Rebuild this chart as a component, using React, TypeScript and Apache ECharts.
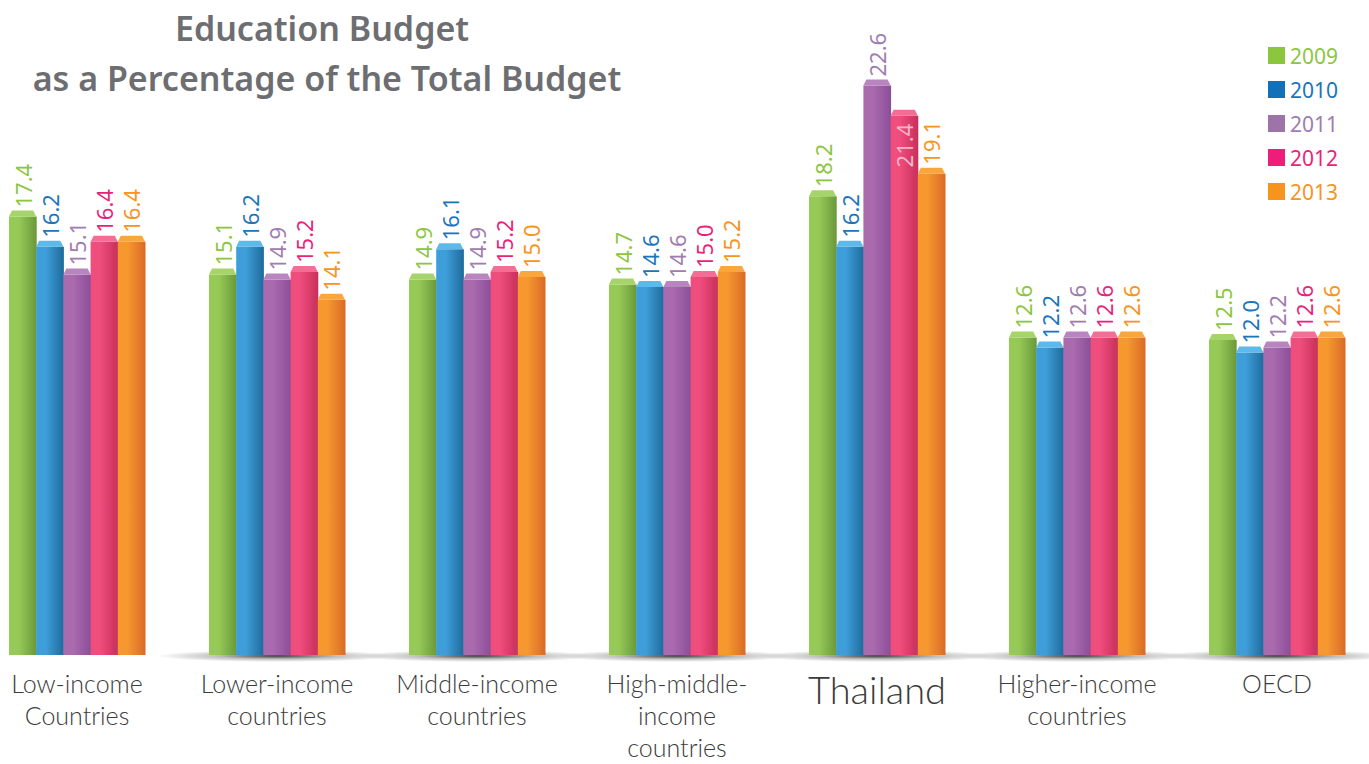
import React, { useEffect, useRef } from "react";
import * as echarts from "echarts";

const categories = [
  "Low-income\nCountries",
  "Lower-income\ncountries",
  "Middle-income\ncountries",
  "High-middle-\nincome\ncountries",
  "Thailand",
  "Higher-income\ncountries",
  "OECD",
];
const years = ["2009", "2010", "2011", "2012", "2013"];
const v2009 = [17.4, 15.1, 14.9, 14.7, 18.2, 12.6, 12.5];
const v2010 = [16.2, 16.2, 16.1, 14.6, 16.2, 12.2, 12.0];
const v2011 = [15.1, 14.9, 14.9, 14.6, 22.6, 12.6, 12.2];
const v2012 = [16.4, 15.2, 15.2, 15.0, 21.4, 12.6, 12.6];
const v2013 = [16.4, 14.1, 15.0, 15.2, 19.1, 12.6, 12.6];
const seriesValues = [v2009, v2010, v2011, v2012, v2013];
// [category index, series index] of labels drawn inside the bar
const insideLabels = [[4, 3]];

const legendColors = ["#8cc63f", "#1170b8", "#9e74a8", "#ee1d7a", "#f7941d"];
const textColors = ["#8cc63f", "#1b75bc", "#a07cb0", "#ec1f7a", "#f7941d"];
const lightColors = ["#96ca57", "#3d9ed9", "#aa6aae", "#ef4d7d", "#f7982f"];
const darkColors = ["#6a983a", "#1f6a9b", "#8a4e98", "#c72f5a", "#d96a26"];
const capColors = ["#a6d46b", "#5cb9ea", "#b885c0", "#f26e94", "#f9a63d"];

const FONT = "'Noto Sans', 'DejaVu Sans', sans-serif";
const LIGHT_FONT = "Lato, 'Noto Sans', sans-serif";

export default function App() {
  const ref = useRef<HTMLDivElement>(null);

  useEffect(() => {
    if (!ref.current) return;
    const chart = echarts.init(ref.current, undefined, { renderer: "svg" });

    const barSeries = years.map((year, sIdx) => ({
      type: "custom",
      name: year,
      z: 3,
      clip: false,
      itemStyle: { color: legendColors[sIdx] },
      encode: { x: 0, y: 1 },
      data: seriesValues[sIdx].map((v, i) => [i, v]),
      renderItem: (params: any, api: any) => {
        const cat = api.value(0);
        const val = api.value(1);
        const base = api.coord([cat, 0]);
        const top = api.coord([cat, val]);
        const band = api.size([1, 0])[0];
        const groupW = band * 0.68;
        const bw = groupW / 5;
        const x0 = base[0] - groupW / 2 + sIdx * bw;
        const capH = 6;
        const inset = 3;
        const inside = insideLabels.some((p) => p[0] === cat && p[1] === sIdx);
        const label = (val as number).toFixed(1);
        return {
          type: "group",
          children: [
            {
              type: "rect",
              shape: { x: x0, y: top[1], width: bw + 0.5, height: base[1] - top[1] },
              style: {
                fill: {
                  type: "linear",
                  x: 0,
                  y: 0,
                  x2: 1,
                  y2: 0,
                  colorStops: [
                    { offset: 0, color: lightColors[sIdx] },
                    { offset: 0.35, color: lightColors[sIdx] },
                    { offset: 1, color: darkColors[sIdx] },
                  ],
                },
              },
            },
            {
              type: "polygon",
              shape: {
                points: [
                  [x0, top[1]],
                  [x0 + bw, top[1]],
                  [x0 + bw - inset, top[1] - capH],
                  [x0 + inset, top[1] - capH],
                ],
              },
              style: { fill: capColors[sIdx] },
            },
            {
              type: "text",
              x: x0 + bw / 2,
              y: inside ? top[1] + 8 : top[1] - capH - 3,
              rotation: Math.PI / 2,
              style: {
                text: label,
                fill: inside ? "#f8b3c8" : textColors[sIdx],
                font: `22px ${FONT}`,
                align: inside ? "right" : "left",
                verticalAlign: "middle",
              },
            },
          ],
        };
      },
    }));

    const shadowSeries = {
      type: "custom",
      name: "shadow",
      z: 1,
      silent: true,
      clip: false,
      encode: { x: 0, y: 1 },
      data: categories.map((_, i) => [i, 0]),
      renderItem: (params: any, api: any) => {
        const cat = api.value(0);
        if (cat === 0) return { type: "group", children: [] };
        const base = api.coord([cat, 0]);
        return {
          type: "ellipse",
          shape: { cx: base[0], cy: base[1] + 1, rx: 120, ry: 6 },
          style: {
            fill: {
              type: "radial",
              x: 0.5,
              y: 0.5,
              r: 0.5,
              colorStops: [
                { offset: 0, color: "rgba(0,0,0,0.75)" },
                { offset: 0.5, color: "rgba(0,0,0,0.25)" },
                { offset: 1, color: "rgba(0,0,0,0)" },
              ],
            },
          },
        };
      },
    };

    chart.setOption({
      animation: false,
      backgroundColor: "#ffffff",
      grid: { left: -23, right: -8, top: 25, bottom: 109, outerBoundsMode: "none", containLabel: false },
      xAxis: {
        type: "category",
        data: categories,
        axisLine: { show: false },
        axisTick: { show: false },
        axisLabel: {
          interval: 0,
          margin: 12,
          color: "#3c3c3c",
          fontFamily: LIGHT_FONT,
          fontWeight: 300,
          fontSize: 25,
          lineHeight: 32,
          formatter: (v: string) => (v === "Thailand" ? `{big|${v}}` : v),
          rich: {
            big: {
              fontSize: 38,
              lineHeight: 44,
              fontFamily: LIGHT_FONT,
              fontWeight: 300,
              color: "#3c3c3c",
            },
          },
        },
      },
      yAxis: {
        type: "value",
        min: 0,
        max: 25,
        show: false,
        splitLine: { show: false },
      },
      legend: {
        orient: "vertical",
        left: 1263,
        top: 40,
        itemWidth: 17,
        itemHeight: 17,
        itemGap: 13,
        icon: "rect",
        textStyle: { fontSize: 21, fontFamily: FONT },
        data: years.map((y, i) => ({ name: y, textStyle: { color: textColors[i] } })),
      },
      graphic: [
        {
          type: "text",
          x: 322,
          y: 28,
          style: {
            text: "Education Budget",
            fill: "#6d6e71",
            font: `600 34px ${FONT}`,
            align: "center",
            verticalAlign: "middle",
          },
        },
        {
          type: "text",
          x: 327,
          y: 78,
          style: {
            text: "as a Percentage of the Total Budget",
            fill: "#6d6e71",
            font: `600 34px ${FONT}`,
            align: "center",
            verticalAlign: "middle",
          },
        },
      ],
      series: [shadowSeries, ...barSeries],
    });

    return () => chart.dispose();
  }, []);

  return (
    <div
      ref={ref}
      style={{ position: "absolute", left: 0, top: 0, width: 1369, height: 764 }}
    />
  );
}
